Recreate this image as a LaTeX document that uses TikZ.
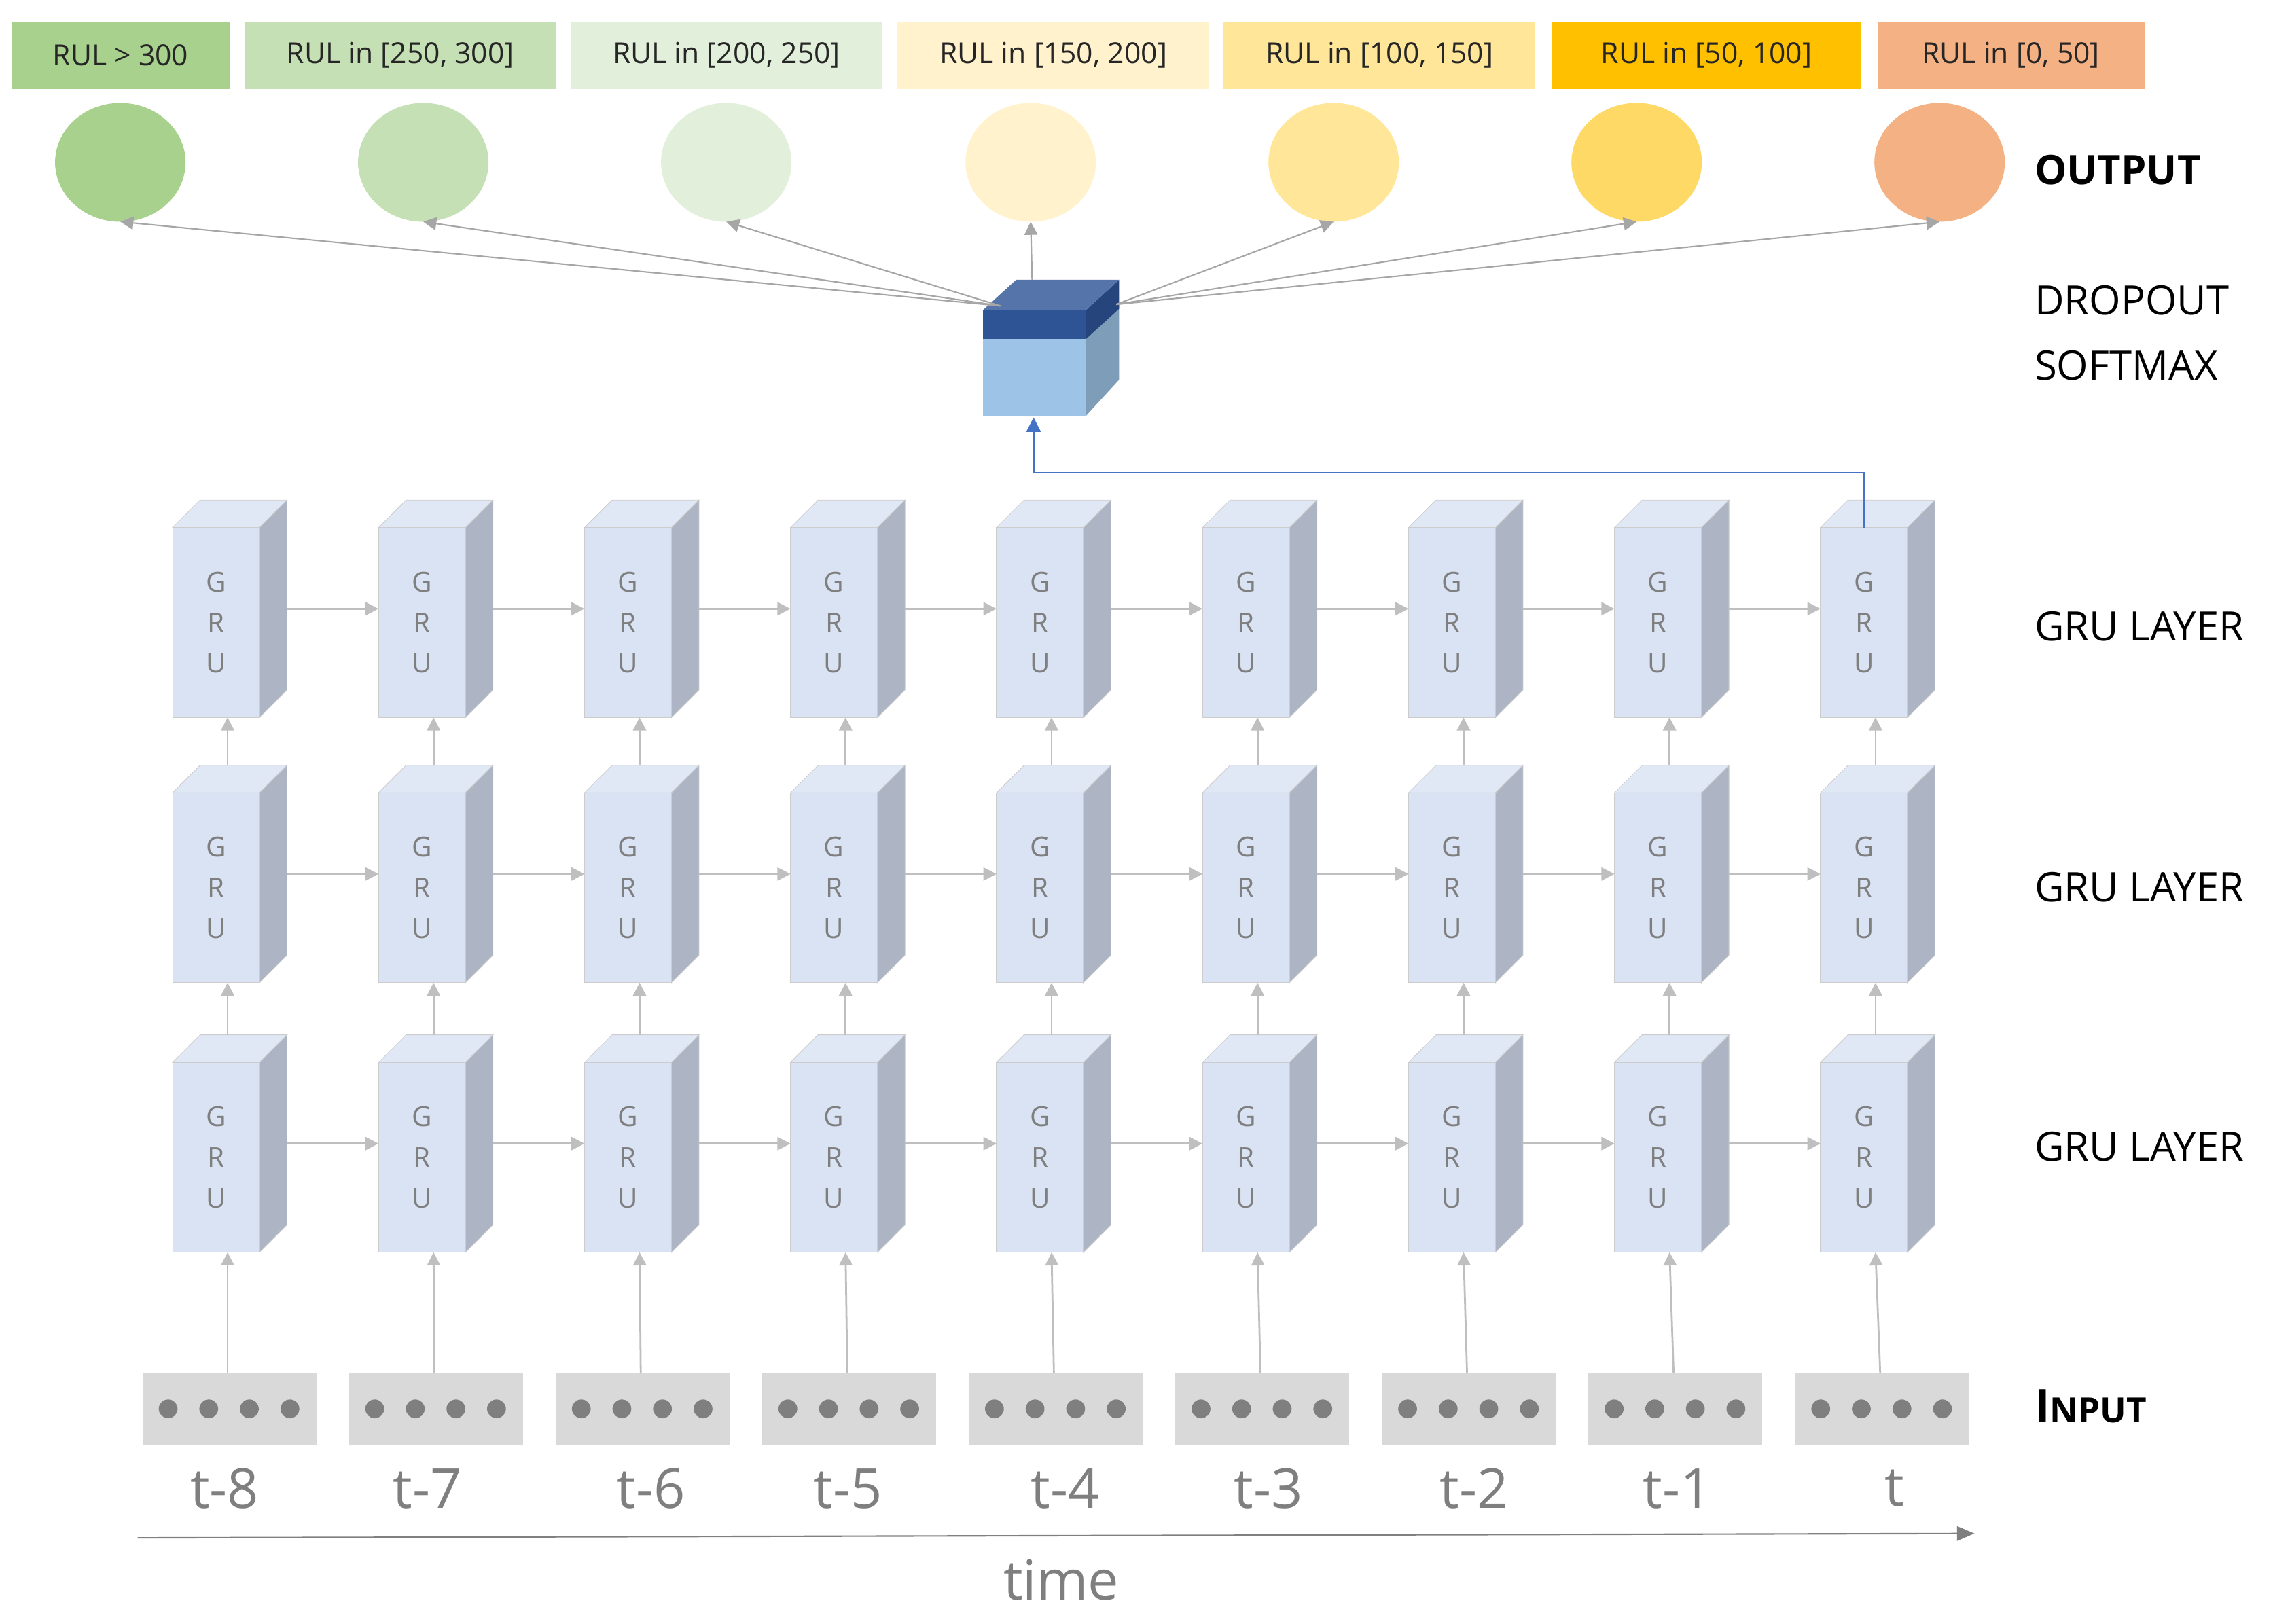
\documentclass[tikz,border=0pt]{standalone}
\usepackage{fontspec}
\setmainfont{Open Sans}
\usetikzlibrary{arrows.meta}
\definecolor{gfront}{HTML}{DAE3F3}
\definecolor{gtop}{HTML}{E1E8F5}
\definecolor{gside}{HTML}{ADB5C4}
\definecolor{garr}{HTML}{BFBFBF}
\definecolor{txtg}{HTML}{7F7F7F}
\tikzset{
  arr/.style={draw=garr,line width=1.3pt,-{Triangle[length=9pt,width=9pt]}},
  oarr/.style={draw=black!35,line width=1pt,-{Triangle[length=9pt,width=9pt]}},
  leg/.style={anchor=north west,minimum height=46pt,inner sep=0pt,font=\fontsize{20}{22}\selectfont,text=black!85},
  lab/.style={anchor=west,font=\fontsize{28}{30}\selectfont},
  tl/.style={font=\fontsize{38}{40}\selectfont,text=txtg}
}
\begin{document}
\begin{tikzpicture}[x=1pt,y=-1pt]
\useasboundingbox (0,0) rectangle (1568,1120);
% legend
\foreach \xa/\w/\c/\t [count=\i] in {8/150/A9D18E/{RUL > 300},169/214/C5E0B4/{RUL in [250, 300]},394/214/E2EFDA/{RUL in [200, 250]},619/215/FFF2CC/{RUL in [150, 200]},844/215/FFE699/{RUL in [100, 150]},1070/214/FFC000/{RUL in [50, 100]},1295/184/F4B183/{RUL in [0, 50]}}{
  \definecolor{lc}{HTML}{\c}
  \node[leg,fill=lc,minimum width=\w pt] (L\i) at (\xa,15) {\t};
}
% output ellipses
\foreach \xc/\c [count=\i] in {83/A9D18E,292/C5E0B4,501/E2EFDA,711/FFF2CC,920/FFE699,1129/FFD966,1338/F4B183}{
  \definecolor{ec}{HTML}{\c}
  \fill[ec] (\xc,112) ellipse (45 and 41);
  \coordinate (E\i) at (\xc,153);
}
% dropout cube
\fill[fill={rgb,255:red,157;green,195;blue,230}] (678,234) rectangle (749,287);
\fill[fill={rgb,255:red,126;green,157;blue,184}] (749,234) -- (772,208) -- (772,262) -- (749,287) -- cycle;
\fill[fill={rgb,255:red,46;green,84;blue,150}] (678,214) rectangle (749,234);
\fill[fill={rgb,255:red,37;green,69;blue,124}] (749,214) -- (772,193) -- (772,213) -- (749,234) -- cycle;
\fill[fill={rgb,255:red,85;green,117;blue,170}] (678,214) -- (701,193) -- (772,193) -- (749,214) -- cycle;
\coordinate (CL) at (690,211);
\coordinate (CM) at (712,193);
\coordinate (CR) at (770,210);
\node[inner sep=0pt] (cube) at (713,250) {};
\draw[oarr] (CL) -- (E1);
\draw[oarr] (CL) -- (E2);
\draw[oarr] (CL) -- (E3);
\draw[oarr] (CM) -- (E4);
\draw[oarr] (CR) -- (E5);
\draw[oarr] (CR) -- (E6);
\draw[oarr] (CR) -- (E7);
% GRU cubes
\foreach \r/\yt in {1/364,2/547,3/733}{
  \foreach \i in {0,...,8}{
    \pgfmathsetmacro{\xl}{119+142.1*\i}
    \begin{scope}[shift={(\xl,\yt)}]
      \filldraw[fill=gtop,draw=black!20,line width=0.4pt] (0,0) -- (19,-19) -- (79,-19) -- (60,0) -- cycle;
      \filldraw[fill=gside,draw=black!20,line width=0.4pt] (60,0) -- (79,-19) -- (79,112) -- (60,131) -- cycle;
      \filldraw[fill=gfront,draw=black!20,line width=0.4pt] (0,0) rectangle (60,131);
      \node[text=txtg,font=\fontsize{19}{28}\selectfont,align=center] at (30,65.5) {G\\R\\U};
    \end{scope}
    \coordinate (R\r W\i) at (\xl,\yt+56);
    \coordinate (R\r E\i) at (\xl+79,\yt+56);
    \coordinate (R\r B\i) at (\xl+38,\yt+131);
    \coordinate (R\r T\i) at (\xl+38,\yt-19);
  }
}
\foreach \r in {1,2,3}{
  \foreach \i [evaluate=\i as \j using int(\i+1)] in {0,...,7}{
    \draw[arr] (R\r E\i) -- (R\r W\j);
  }
}
\foreach \i in {0,...,8}{
  \draw[arr] (R2T\i) -- (R1B\i);
  \draw[arr] (R3T\i) -- (R2B\i);
}
% blue arrow
\draw[draw={rgb,255:red,68;green,114;blue,196},line width=1pt,-{Triangle[length=10pt,width=10pt]}] (1286,364) -- (1286,326) -- (713,326) -- (713,288);
% inputs
\foreach \i in {0,...,8}{
  \pgfmathsetmacro{\xi}{98+142.5*\i}
  \node[fill=black!15,minimum width=120pt,minimum height=50pt,inner sep=0pt,anchor=north west] (I\i) at (\xi,947) {};
  \foreach \k in {0,1,2,3}{ \fill[txtg] (\xi+18+28*\k,972) circle (6.5); }
  \coordinate (IT\i) at (\xi+59,947);
  \draw[arr] (IT\i) -- (R3B\i);
}
% time labels
\foreach \xx/\t in {155/t-8,295/t-7,449/t-6,585/t-5,735/t-4,875/t-3,1017/t-2,1157/t-1,1307/t}{
  \node[tl] at (\xx,1027) {\t};
}
\coordinate (ta) at (95,1061);
\coordinate (tb) at (1362,1058);
\draw[draw=txtg,line width=1pt,-{Triangle[length=12pt,width=10pt]}] (ta) -- (tb);
\node[tl] at (732,1090) {time};
% right labels
\node[lab,font=\fontsize{28}{30}\selectfont\bfseries] at (1400,117) {OUTPUT};
\node[lab] at (1400,207) {DROPOUT};
\node[lab] at (1400,252) {SOFTMAX};
\node[lab] at (1400,432) {GRU LAYER};
\node[lab] at (1400,612) {GRU LAYER};
\node[lab] at (1400,791) {GRU LAYER};
\node[lab,font=\bfseries] at (1400,970) {{\fontsize{32}{34}\selectfont I}{\fontsize{24}{26}\selectfont NPUT}};
\end{tikzpicture}
\end{document}
